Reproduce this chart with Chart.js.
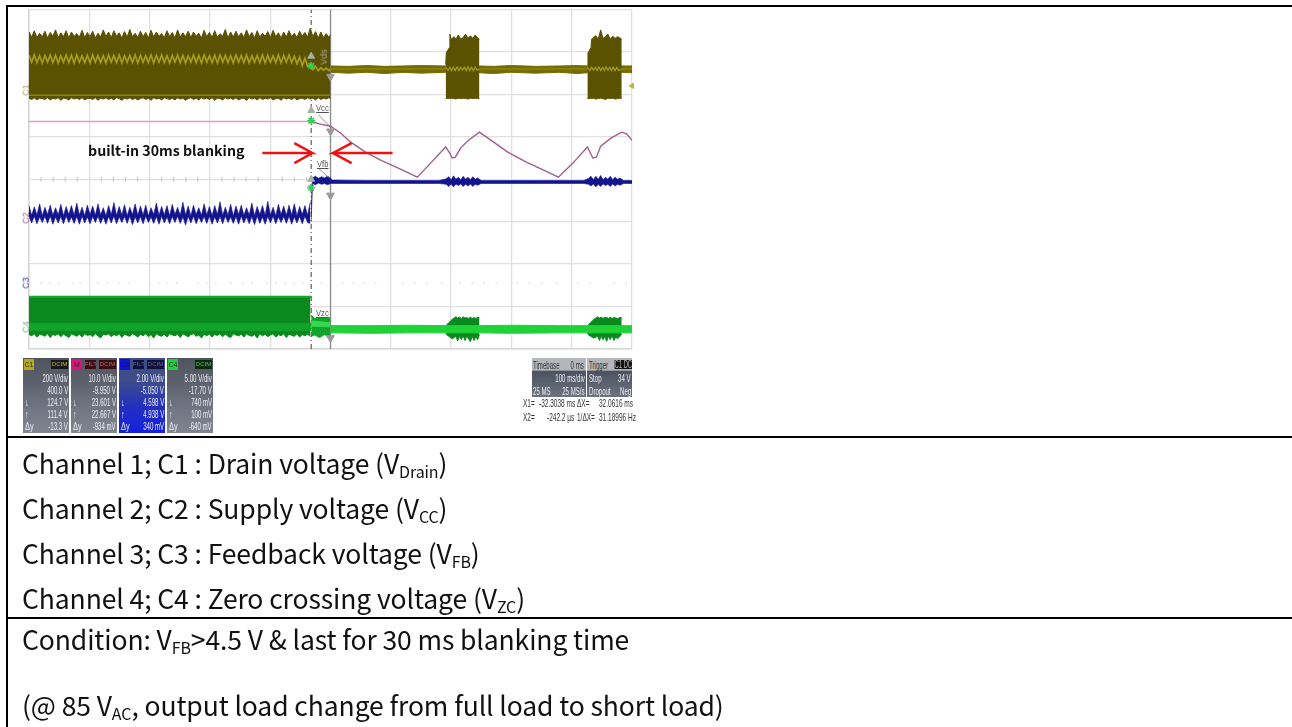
<!DOCTYPE html>
<html><head><meta charset="utf-8">
<script src="https://cdn.jsdelivr.net/npm/chart.js@4"></script>
<style>
html,body{margin:0;padding:0;background:#fff;width:1292px;height:727px;overflow:hidden;font-family:"Noto Sans CJK SC","Noto Sans",sans-serif;color:#111}
#wrap{position:absolute;left:0;top:0;width:1292px;height:727px}
#c{position:absolute;left:0;top:0;filter:blur(.55px)}
.rule{position:absolute;background:#000}
.row{position:absolute;left:22px;font-size:26.5px;line-height:32px;white-space:nowrap;letter-spacing:-.1px}
.row sub{font-size:16px;vertical-align:baseline;position:relative;top:4px;line-height:0}
#note{position:absolute;left:88px;top:140px;font-size:14.2px;line-height:20px;font-weight:700;white-space:nowrap;color:#111}
.p{position:absolute;top:358px;height:75px;width:46px;background:linear-gradient(#50545f 0,#5b606c 30%,#6d7280 60%,#808590 100%);color:#eceef2;font:10.5px/12px "Liberation Sans",sans-serif;filter:blur(.45px);overflow:hidden}
.p.b{background:linear-gradient(#3d4f86 0,#3f4c8a 30%,#2230c0 65%,#1420e0 100%)}
.p i{position:absolute;left:1px;top:1px;width:10px;height:11px;font:7px/11px "Liberation Sans",sans-serif;text-align:center;color:#333;font-style:normal}
.p u{position:absolute;right:1px;top:2px;height:9px;width:17px;background:#181818;text-decoration:none;font:6px/9px "Liberation Sans",sans-serif;text-align:center;color:#aaa;overflow:hidden}
.p span{position:absolute;right:1px;white-space:nowrap;transform:scaleX(.58);transform-origin:right center}
.p em{position:absolute;left:2px;font-style:normal;transform:scaleX(.7);transform-origin:left center}
.tb{position:absolute;top:358px;height:39px;background:linear-gradient(#b4b6bc 0,#b4b6bc 31%,#4d5262 34%,#6d7280 100%);color:#eceef2;font:10.5px/12px "Liberation Sans",sans-serif;filter:blur(.45px)}
.tb span{position:absolute;white-space:nowrap;transform:scaleX(.58)}
.tb span.l{transform-origin:left center}
.tb span.r{transform-origin:right center}
.cur{position:absolute;color:#333;font:10.5px/12px "Liberation Sans",sans-serif;white-space:nowrap;filter:blur(.35px);transform:scaleX(.62);transform-origin:left center}
.lab{position:absolute;font:9px/10px "Liberation Sans",sans-serif;color:#555;white-space:nowrap;filter:blur(.4px);transform:scaleX(.85);transform-origin:left center}
.rot{transform:rotate(-90deg);transform-origin:center}
</style></head><body>
<div id="wrap"><canvas id="c" width="1292" height="727"></canvas>
<div class="rule" style="left:6px;top:5px;width:1286px;height:2px"></div>
<div class="rule" style="left:6px;top:5px;width:2px;height:722px"></div>
<div class="rule" style="left:6px;top:436px;width:1286px;height:2px"></div>
<div class="rule" style="left:6px;top:617px;width:1286px;height:2px"></div>
<div id="note">built-in 30ms blanking</div>
<div class="lab" style="left:316px;top:103px;text-decoration:underline">Vcc</div>
<div class="lab" style="left:317px;top:159px;text-decoration:underline">Vfb</div>
<div class="lab" style="left:316px;top:308px;text-decoration:underline">Vzc</div>
<div class="lab rot" style="left:316px;top:52px;color:#a8a8a0">Vds</div>
<div class="lab rot" style="left:20px;top:85px;color:#a8a050">C1</div>
<div class="lab rot" style="left:20px;top:213px;color:#a55a8a">C2</div>
<div class="lab rot" style="left:20px;top:278px;color:#343a90">C3</div>
<div class="lab rot" style="left:20px;top:322px;color:#60c070">C4</div>

<div class="p" style="left:23px"><i style="background:#b8a818">C1</i><u style="color:#c8b840">DCIM</u><span style="top:14px">200 V/div</span><span style="top:26px">400.0 V</span><em style="top:38px">↓</em><span style="top:38px">124.7 V</span><em style="top:50px">↑</em><span style="top:50px">111.4 V</span><em style="top:62px">Δy</em><span style="top:62px">-13.3 V</span></div>
<div class="p" style="left:71px"><i style="background:#e0107a">M</i><u style="background:#3a0c14;left:14px;right:auto;width:11px;color:#c66">FILT</u><u style="background:#3a0c14;color:#c66">DCIM</u><span style="top:14px">10.0 V/div</span><span style="top:26px">-9.950 V</span><em style="top:38px">↓</em><span style="top:38px">23.601 V</span><em style="top:50px">↑</em><span style="top:50px">22.667 V</span><em style="top:62px">Δy</em><span style="top:62px">-934 mV</span></div>
<div class="p b" style="left:119px"><i style="background:#1010e0;color:#116">C3</i><u style="background:#101038;left:14px;right:auto;width:11px;color:#66a">FILT</u><u style="background:#101038;color:#66a">DCIM</u><span style="top:14px">2.00 V/div</span><span style="top:26px">-5.050 V</span><em style="top:38px">↓</em><span style="top:38px">4.598 V</span><em style="top:50px">↑</em><span style="top:50px">4.938 V</span><em style="top:62px">Δy</em><span style="top:62px">340 mV</span></div>
<div class="p" style="left:167px"><i style="background:#20d040">C4</i><u style="background:#0c2a10;color:#5c5">DCIM</u><span style="top:14px">5.00 V/div</span><span style="top:26px">-17.70 V</span><em style="top:38px">↓</em><span style="top:38px">740 mV</span><em style="top:50px">↑</em><span style="top:50px">100 mV</span><em style="top:62px">Δy</em><span style="top:62px">-640 mV</span></div>

<div class="tb" style="left:532px;width:54px"><span class="l" style="left:1px;top:1px;color:#333">Timebase</span><span class="r" style="right:2px;top:1px;color:#333">0 ms</span><span class="r" style="right:1px;top:14px">100 ms/div</span><span class="l" style="left:1px;top:27px">25 MS</span><span class="r" style="right:1px;top:27px">25 MS/s</span></div>
<div class="tb" style="left:587px;width:45px"><span class="l" style="left:2px;top:1px;color:#333">Trigger</span><span class="r" style="right:0;top:2px;background:#111;color:#bbb;font-size:10px;line-height:9px">C1 DC</span><span class="l" style="left:2px;top:14px">Stop</span><span class="r" style="right:1px;top:14px">34 V</span><span class="l" style="left:2px;top:27px">Dropout</span><span class="r" style="right:1px;top:27px">Neg</span></div>
<div class="cur" style="left:523px;top:397px">X1=</div><div class="cur" style="left:539px;top:397px">-32.3038 ms</div><div class="cur" style="left:577px;top:397px">ΔX=</div><div class="cur" style="left:599px;top:397px">32.0616 ms</div>
<div class="cur" style="left:523px;top:411px">X2=</div><div class="cur" style="left:547px;top:411px">-242.2 µs</div><div class="cur" style="left:577px;top:411px">1/ΔX=</div><div class="cur" style="left:599px;top:411px">31.18996 Hz</div>

<div class="row" style="top:447px">Channel 1; C1 : Drain voltage (V<sub>Drain</sub>)</div>
<div class="row" style="top:492px">Channel 2; C2 : Supply voltage (V<sub>CC</sub>)</div>
<div class="row" style="top:537px">Channel 3; C3 : Feedback voltage (V<sub>FB</sub>)</div>
<div class="row" style="top:582px">Channel 4; C4 : Zero crossing voltage (V<sub>ZC</sub>)</div>
<div class="row" style="top:623px">Condition: V<sub>FB</sub>&gt;4.5 V &amp; last for 30 ms blanking time</div>
<div class="row" style="top:689px">(@ 85 V<sub>AC</sub>, output load change from full load to short load)</div>
</div>
<script>
// time in ms, amplitude in screen divisions (0 = bottom of graticule, 8 = top)
const gridMs=[-500,-400,-300,-200,-100,0,100,200,300,400,500];
const tBefore=[-500,-495.6,-491.2,-486.8,-482.4,-478,-473.6,-469.2,-464.8,-460.4,
-456,-451.6,-447.2,-442.8,-438.4,-434,-429.6,-425.2,-420.8,-416.4,
-412,-407.6,-403.2,-398.8,-394.4,-390,-385.6,-381.2,-376.8,-372.4,
-368,-363.6,-359.2,-354.8,-350.4,-346,-341.6,-337.2,-332.8,-328.4,
-324,-319.6,-315.2,-310.8,-306.4,-302,-297.6,-293.2,-288.8,-284.4,
-280,-275.6,-271.2,-266.8,-262.4,-258,-253.6,-249.2,-244.8,-240.4,
-236,-231.6,-227.2,-222.8,-218.4,-214,-209.6,-205.2,-200.8,-196.4,
-192,-187.6,-183.2,-178.8,-174.4,-170,-165.6,-161.2,-156.8,-152.4,
-148,-143.6,-139.2,-134.8,-130.4,-126,-121.6,-117.2,-112.8,-108.4,
-104,-99.6,-95.2,-90.8,-86.4,-82,-77.6,-73.2,-68.8,-64.4,
-60,-55.6,-51.2,-46.8,-42.4,-38,-33.6,-29.2,-24.8,-20.4,
-16,-11.6,-7.2,-2.8,0];
const c1Top=[7.47,7.35,7.5,7.34,7.44,7.36,7.49,7.33,7.46,7.37,
7.52,7.34,7.45,7.36,7.5,7.33,7.47,7.37,7.43,7.35,
7.51,7.34,7.46,7.36,7.49,7.33,7.44,7.35,7.52,7.36,
7.47,7.34,7.5,7.37,7.45,7.33,7.48,7.35,7.53,7.36,
7.44,7.34,7.49,7.36,7.46,7.33,7.51,7.35,7.47,7.37,
7.43,7.34,7.5,7.36,7.46,7.33,7.52,7.35,7.45,7.36,
7.49,7.34,7.47,7.37,7.44,7.33,7.51,7.36,7.46,7.34,
7.5,7.35,7.43,7.37,7.53,7.33,7.47,7.35,7.49,7.36,
7.45,7.34,7.52,7.36,7.46,7.33,7.5,7.35,7.44,7.37,
7.48,7.34,7.51,7.36,7.45,7.33,7.47,7.35,7.5,7.36,
7.44,7.34,7.49,7.37,7.46,7.35,7.56,7.36,7.48,7.33,
7.47,7.34,7.43,7.35,7.4];
const c1Bottom=[5.91,5.88,5.92,5.87,5.91,5.9,5.88,5.92,5.87,5.91,
5.89,5.92,5.86,5.91,5.9,5.87,5.92,5.89,5.91,5.88,
5.92,5.87,5.9,5.91,5.88,5.92,5.86,5.91,5.89,5.92,
5.88,5.91,5.87,5.92,5.9,5.86,5.91,5.89,5.92,5.88,
5.91,5.87,5.9,5.92,5.88,5.91,5.86,5.92,5.89,5.91,
5.87,5.92,5.9,5.88,5.91,5.87,5.92,5.89,5.91,5.86,
5.9,5.92,5.88,5.91,5.87,5.92,5.89,5.91,5.88,5.92,
5.86,5.91,5.9,5.87,5.92,5.89,5.91,5.88,5.92,5.87,
5.9,5.91,5.86,5.92,5.89,5.91,5.87,5.92,5.88,5.91,
5.89,5.92,5.87,5.9,5.91,5.86,5.92,5.89,5.91,5.88,
5.92,5.87,5.9,5.91,5.88,5.92,5.89,5.91,5.87,5.92,
5.88,5.91,5.89,5.92,5.9];
const c1Zig=[6.92,6.76,6.93,6.75,6.91,6.74,6.92,6.76,6.93,6.75,
6.92,6.74,6.91,6.76,6.93,6.75,6.92,6.74,6.93,6.76,
6.91,6.75,6.92,6.74,6.93,6.76,6.92,6.75,6.91,6.74,
6.93,6.76,6.92,6.75,6.93,6.74,6.91,6.76,6.92,6.75,
6.93,6.74,6.92,6.76,6.91,6.75,6.93,6.74,6.92,6.76,
6.93,6.75,6.91,6.74,6.92,6.76,6.93,6.75,6.92,6.74,
6.91,6.76,6.93,6.75,6.92,6.74,6.93,6.76,6.91,6.75,
6.92,6.74,6.93,6.76,6.92,6.75,6.91,6.74,6.93,6.76,
6.92,6.75,6.93,6.74,6.91,6.76,6.92,6.75,6.93,6.74,
6.92,6.76,6.91,6.75,6.93,6.74,6.92,6.76,6.93,6.75,
6.9,6.72,6.88,6.68,6.85,6.66,6.7,6.58,6.66,6.56,
6.63,6.57,6.62,6.56,6.6];
const c1EdgeMs=[-500,0];
const c1EdgeY=[5.98,5.98];
const c1AfterMs=[0,30,60,90,120,150,191,247,270,300,340,380,410,426,483,500];
const c1AfterTop=[6.67,6.66,6.68,6.66,6.67,6.68,6.67,6.67,6.66,6.68,6.66,6.67,6.68,6.67,6.67,6.67];
const c1AfterBottom=[6.52,6.5,6.52,6.49,6.52,6.5,6.52,6.51,6.49,6.52,6.5,6.52,6.49,6.51,6.52,6.51];
const c1LineMs=[0,500];
const c1LineY=[6.6,6.6];
const c1MidMs=[191,195,198,201,204,207,210,213,216,219,222,225,228,231,234,237,240,243,247];
const c1MidY=[6.64,6.56,6.64,6.56,6.64,6.56,6.65,6.56,6.64,6.57,6.64,6.56,6.65,6.56,6.64,6.56,6.64,6.57,6.6];
const c1Mid2Ms=[426,430,433,436,439,442,445,448,451,454,457,460,463,466,469,472,475,478,483];
const c1Mid2Y=[6.64,6.56,6.64,6.57,6.64,6.56,6.65,6.56,6.64,6.56,6.65,6.57,6.64,6.56,6.64,6.56,6.64,6.56,6.6];
const burst1Ms=[191,192,197,198,200,205,208,212,216,220,224,228,232,236,240,244,247];
const burst1Top=[6.7,6.98,7.1,7.42,7.3,7.36,7.3,7.4,7.3,7.34,7.42,7.32,7.38,7.32,7.4,7.33,7.3];
const burst1Bottom=[5.9,5.9,5.91,5.9,5.91,5.9,5.89,5.91,5.9,5.91,5.9,5.89,5.91,5.9,5.91,5.9,5.9];
const burst2Ms=[426,427,432,433,436,440,444,448,452,456,460,464,468,472,476,480,483];
const burst2Top=[6.7,6.98,7.1,7.3,7.34,7.38,7.3,7.52,7.32,7.36,7.42,7.3,7.37,7.32,7.36,7.33,7.3];
const burst2Bottom=[5.9,5.9,5.91,5.9,5.91,5.89,5.9,5.91,5.9,5.88,5.91,5.9,5.91,5.89,5.9,5.91,5.9];
const c2FlatMs=[-500,-32];
const c2FlatY=[5.36,5.36];
const c2Ms=[-32,-16.6,0,16.6,33,58,83,116,144,166,191,197.5,202,207,216,229,247,270,294,324,357,378,402,426,435,441,448,465,483,491,500];
const c2Y=[5.36,5.3,5.25,5.09,4.88,4.64,4.45,4.24,4.05,4.38,4.76,4.62,4.5,4.52,4.74,4.92,5.11,4.88,4.64,4.41,4.19,4.05,4.38,4.76,4.5,4.52,4.78,4.97,5.11,5.07,4.92];
const tBlue=tBefore.slice(0,107);
const c3Hi=[3.38,3.15,3.35,3.16,3.42,3.14,3.34,3.17,3.39,3.15,
3.33,3.16,3.41,3.14,3.36,3.17,3.38,3.15,3.44,3.16,
3.34,3.14,3.39,3.17,3.37,3.15,3.42,3.16,3.33,3.14,
3.38,3.17,3.45,3.15,3.36,3.16,3.4,3.14,3.34,3.17,
3.42,3.15,3.37,3.16,3.39,3.14,3.33,3.17,3.44,3.15,
3.36,3.16,3.38,3.14,3.41,3.17,3.34,3.15,3.46,3.16,
3.37,3.14,3.39,3.17,3.33,3.15,3.42,3.16,3.36,3.14,
3.38,3.17,3.47,3.15,3.34,3.16,3.41,3.14,3.37,3.17,
3.39,3.15,3.33,3.16,3.44,3.14,3.36,3.17,3.38,3.15,
3.48,3.16,3.34,3.14,3.41,3.17,3.37,3.15,3.39,3.16,
3.42,3.14,3.36,3.17,3.38,3.15,3.46];
const c3Lo=[3.12,2.97,3.13,2.95,3.11,2.98,3.12,2.96,3.13,2.94,
3.11,2.97,3.12,2.95,3.13,2.98,3.11,2.96,3.12,2.94,
3.13,2.97,3.11,2.95,3.12,2.98,3.13,2.96,3.11,2.94,
3.12,2.97,3.13,2.95,3.11,2.98,3.12,2.96,3.13,2.93,
3.11,2.97,3.12,2.95,3.13,2.98,3.11,2.96,3.12,2.94,
3.13,2.97,3.11,2.95,3.12,2.98,3.13,2.96,3.11,2.92,
3.12,2.97,3.13,2.95,3.11,2.98,3.12,2.96,3.13,2.94,
3.11,2.97,3.12,2.95,3.13,2.98,3.11,2.96,3.12,2.94,
3.13,2.97,3.11,2.95,3.12,2.93,3.13,2.96,3.11,2.94,
3.12,2.97,3.13,2.95,3.11,2.98,3.12,2.96,3.13,2.94,
3.11,2.97,3.12,2.95,3.13,2.98,2.96];
const c3AfterMs=[-32,-30,-25,-20,-15,-10,-5,0,2,60,120,180,192,196,200,204,208,212,216,220,224,228,232,236,240,244,250,330,400,420,428,432,436,440,444,448,452,456,460,464,468,472,476,480,486,500];
const c3AfterHi=[3.2,4.03,4.07,4.02,4.06,4.03,4.07,4.03,3.98,3.97,3.97,3.97,4.01,4.06,3.99,4.08,4.0,4.05,3.98,4.07,4.0,4.05,3.99,4.06,4.0,4.03,3.97,3.97,3.97,3.97,4.02,4.07,3.99,4.07,4.0,4.09,3.99,4.05,4.0,4.07,3.99,4.05,4.0,4.03,3.97,3.97];
const c3AfterLo=[3.0,3.9,3.87,3.91,3.88,3.9,3.87,3.9,3.9,3.9,3.9,3.9,3.88,3.83,3.89,3.82,3.89,3.85,3.89,3.83,3.88,3.84,3.89,3.83,3.88,3.86,3.9,3.9,3.9,3.9,3.88,3.84,3.89,3.82,3.88,3.83,3.89,3.85,3.88,3.83,3.89,3.84,3.88,3.86,3.9,3.9];
const c4Ms=[-500,-32];
const c4Top=[1.23,1.23];
const c4BottomMs=tBefore.slice(0,107);
const c4Bottom=[.34,.31,.36,.28,.35,.33,.3,.36,.27,.34,
.32,.36,.29,.35,.31,.27,.36,.33,.3,.35,
.28,.36,.32,.34,.29,.36,.31,.26,.35,.33,
.36,.29,.34,.31,.36,.27,.35,.32,.3,.36,
.33,.28,.35,.31,.36,.29,.34,.26,.36,.32,
.3,.35,.28,.36,.33,.31,.35,.27,.36,.32,
.29,.34,.36,.3,.33,.26,.35,.31,.36,.28,
.34,.32,.36,.29,.35,.3,.27,.36,.33,.31,
.35,.28,.36,.32,.3,.34,.26,.36,.31,.35,
.29,.33,.36,.28,.34,.31,.36,.27,.35,.32,
.3,.36,.28,.34,.31,.35,.3];
const c4StripMs=[-500,-32];
const c4StripTop=[.6,.6];
const c4StripBottom=[.44,.44];
const c4ShortMs=[-32,-26,-18,-10,-4,0];
const c4ShortTop=[.8,.72,.74,.73,.75,.72];
const c4ShortBottom=[.3,.33,.27,.34,.29,.32];
const c4ShortBrightMs=[-32,0];
const c4ShortBrightHi=[.66,.62];
const c4ShortBrightLo=[.54,.52];
const c4AfterMs=[0,70,130,191,247,300,380,426,483,500];
const c4AfterTop=[.55,.55,.56,.55,.55,.56,.55,.55,.55,.55];
const c4AfterBottom=[.38,.37,.38,.38,.38,.37,.38,.38,.38,.38];
const b4a=[191,196,202,208,211,214,217,220,223,226,229,232,235,238,241,244,247];
const b4aTop=[.54,.62,.7,.76,.73,.75,.72,.76,.73,.74,.72,.75,.72,.74,.72,.75,.74];
const b4aBot=[.36,.3,.24,.3,.19,.3,.22,.32,.2,.3,.24,.17,.3,.2,.29,.22,.34];
const b4b=[426,431,437,443,446,449,452,455,458,461,464,467,470,473,476,480,483];
const b4bTop=[.54,.62,.7,.76,.73,.75,.72,.75,.74,.72,.75,.72,.74,.73,.72,.74,.74];
const b4bBot=[.36,.3,.26,.3,.2,.3,.22,.3,.18,.3,.22,.32,.2,.28,.24,.3,.34];
const x1Cursor=[-32,-32];
const x2Cursor=[0,0];
const cursorSpan=[0,8];
const arrowLeftMs=[-113,-30,-60,-30,-60];
const arrowLeftY=[4.62,4.62,4.85,4.62,4.38];
const arrowRightMs=[103,4,35,4,35];
const arrowRightY=[4.62,4.62,4.85,4.62,4.38];
const leadVccMs=[-20,2];
const leadVccY=[5.52,5.2];
const leadVfbMs=[-20,-3];
const leadVfbY=[4.26,4.04];
const greenMarkMs=[-32,-32,-32];
const greenMarkY=[6.67,5.38,3.8];
const stemUpMs=[-32,-32,-32];
const stemUpY=[6.9,5.62,4.0];
const grayMarkMs=[0,0,0,0];
const grayMarkY=[6.42,5.13,3.62,.26];
const dotRowMs=[-480,-465,-450,-428,-415,-385,-370,-350,-335,-300,-285,-270,-255,-220,-205,-190,-165,-145,-130,-105,-90,-75,-60,-45,-15,20,38,55,75,120,140,160,185,215,235,255,275,310,330,350,375,410,430,470,490];
const dotRowY=[1.55,1.55,1.55,1.55,1.55,1.55,1.55,1.55,1.55,1.55,1.55,1.55,1.55,1.55,1.55,1.55,1.55,1.55,1.55,1.55,1.55,1.55,1.55,1.55,1.55,1.55,1.55,1.55,1.55,1.55,1.55,1.55,1.55,1.55,1.55,1.55,1.55,1.55,1.55,1.55,1.55,1.55,1.55,1.55,1.55];
const centerTickMs=[-480,-460,-440,-420,-380,-360,-340,-320,-280,-260,-240,-220,-180,-160,-140,-120,-80,-60,-40];
const centerTickY=[4,4,4,4,4,4,4,4,4,4,4,4,4,4,4,4,4,4,4];
const trigMs=[0];const trigY=[-.12];
const levelMs=[500];const levelY=[6.2];

const pts=(t,v)=>t.map((x,i)=>({x,y:v[i]}));
const ln=(t,v,color,w,extra)=>Object.assign({data:pts(t,v),borderColor:color,backgroundColor:color,borderWidth:w,pointRadius:0,fill:false,tension:0},extra||{});
const band=(t,hi,lo,color,w,tb,bb)=>[
  ln(t,hi,color,w==null?1:w,{fill:'+1',backgroundColor:color}),
  ln(tb||t,bb||lo,color,w==null?1:w)];
const OLIVE='#5a5200',OLIVE2='#756c04',OLIVEL='#a59c1c';
const GREEN='#0a8a1e',GREEN2='#12a42a',GREENB='#1fd238';
const BLUE='#14148e';
const datasets=[
  ln(dotRowMs,dotRowY,'#dcdcdc',0,{showLine:false,pointRadius:1,pointStyle:'rect'}),
  ln(centerTickMs,centerTickY,'#c4c4c4',1,{showLine:false,pointRadius:2.5,pointStyle:'line',rotation:90}),
  ln(x2Cursor,cursorSpan,'#8a8a8a',1.3),
  ln(x1Cursor,cursorSpan,'#5c5c5c',1.2,{borderDash:[5,3,1,3]}),
  ...band(tBefore,c1Top,c1Bottom,OLIVE),
  ln(tBefore,c1Zig,OLIVEL,1.7),
  ln(c1EdgeMs,c1EdgeY,'#8c8410',1.6),
  ...band(c1AfterMs,c1AfterTop,c1AfterBottom,OLIVE2),
  ln(c1LineMs,c1LineY,'#8f8712',1.4),
  ...band(burst1Ms,burst1Top,burst1Bottom,OLIVE),
  ...band(burst2Ms,burst2Top,burst2Bottom,OLIVE),
  ln(c1MidMs,c1MidY,'#a59c1c',1.2),
  ln(c1Mid2Ms,c1Mid2Y,'#a59c1c',1.2),
  ln(c2FlatMs,c2FlatY,'#d8a2c8',1.6),
  ln(c2Ms,c2Y,'#a0608c',1.4),
  ...band(tBlue,c3Hi,c3Lo,BLUE,.6),
  ...band(c3AfterMs,c3AfterHi,c3AfterLo,BLUE,.6),
  ...band(c4Ms,c4Top,[],GREEN,1,c4BottomMs,c4Bottom),
  ln(c4Ms,c4Top,'#17ab2e',2),
  ...band(c4StripMs,c4StripTop,c4StripBottom,GREEN2),
  ...band(c4ShortMs,c4ShortTop,c4ShortBottom,GREEN2),
  ...band(c4ShortBrightMs,c4ShortBrightHi,c4ShortBrightLo,'#35d850'),
  ...band(b4a,b4aTop,b4aBot,GREEN),
  ...band(b4b,b4bTop,b4bBot,GREEN),
  ...band(c4AfterMs,c4AfterTop,c4AfterBottom,GREENB),
  ln(leadVccMs,leadVccY,'#777',.8),
  ln(leadVfbMs,leadVfbY,'#777',.8),
  ln(arrowLeftMs,arrowLeftY,'#f01010',2.4),
  ln(arrowRightMs,arrowRightY,'#f01010',2.4),
  ln(stemUpMs,stemUpY,'#9aa',0,{showLine:false,pointRadius:4,pointStyle:'triangle',backgroundColor:'#a8b0a8',borderColor:'#a8b0a8',borderWidth:1}),
  ln(greenMarkMs,greenMarkY,'#30d050',1.5,{showLine:false,pointRadius:4,pointStyle:'star'}),
  ln(grayMarkMs,grayMarkY,'#9a9a9a',1,{showLine:false,pointRadius:4.5,pointStyle:'triangle',rotation:180}),
  ln(trigMs,trigY,'#c0b040',1,{showLine:false,pointRadius:3,pointStyle:'triangle',clip:false}),
  ln(levelMs,levelY,'#c0b040',1,{showLine:false,pointRadius:3,pointStyle:'triangle',rotation:-90,clip:false})
];
datasets.forEach((d,i)=>{d.order=-i;});
new Chart(document.getElementById('c'),{
  type:'line',
  data:{datasets},
  options:{
    responsive:false,animation:false,
    parsing:{xAxisKey:'x',yAxisKey:'y'},
    layout:{padding:{left:29,right:660,top:9.5,bottom:378}},
    plugins:{legend:{display:false},tooltip:{enabled:false},title:{display:false}},
    scales:{
      x:{type:'linear',min:-500,max:500,afterBuildTicks:a=>{a.ticks=gridMs.map(value=>({value}));},
         grid:{color:'#e0e0e0',lineWidth:1.3,drawTicks:false},border:{color:'#d6d6d6',width:1.5},ticks:{display:false}},
      y:{type:'linear',min:0,max:8,ticks:{display:false,stepSize:1},
         grid:{color:'#e0e0e0',lineWidth:1.3,drawTicks:false},border:{color:'#d6d6d6',width:1.5}}
    }
  }
});
</script>
</body></html>
